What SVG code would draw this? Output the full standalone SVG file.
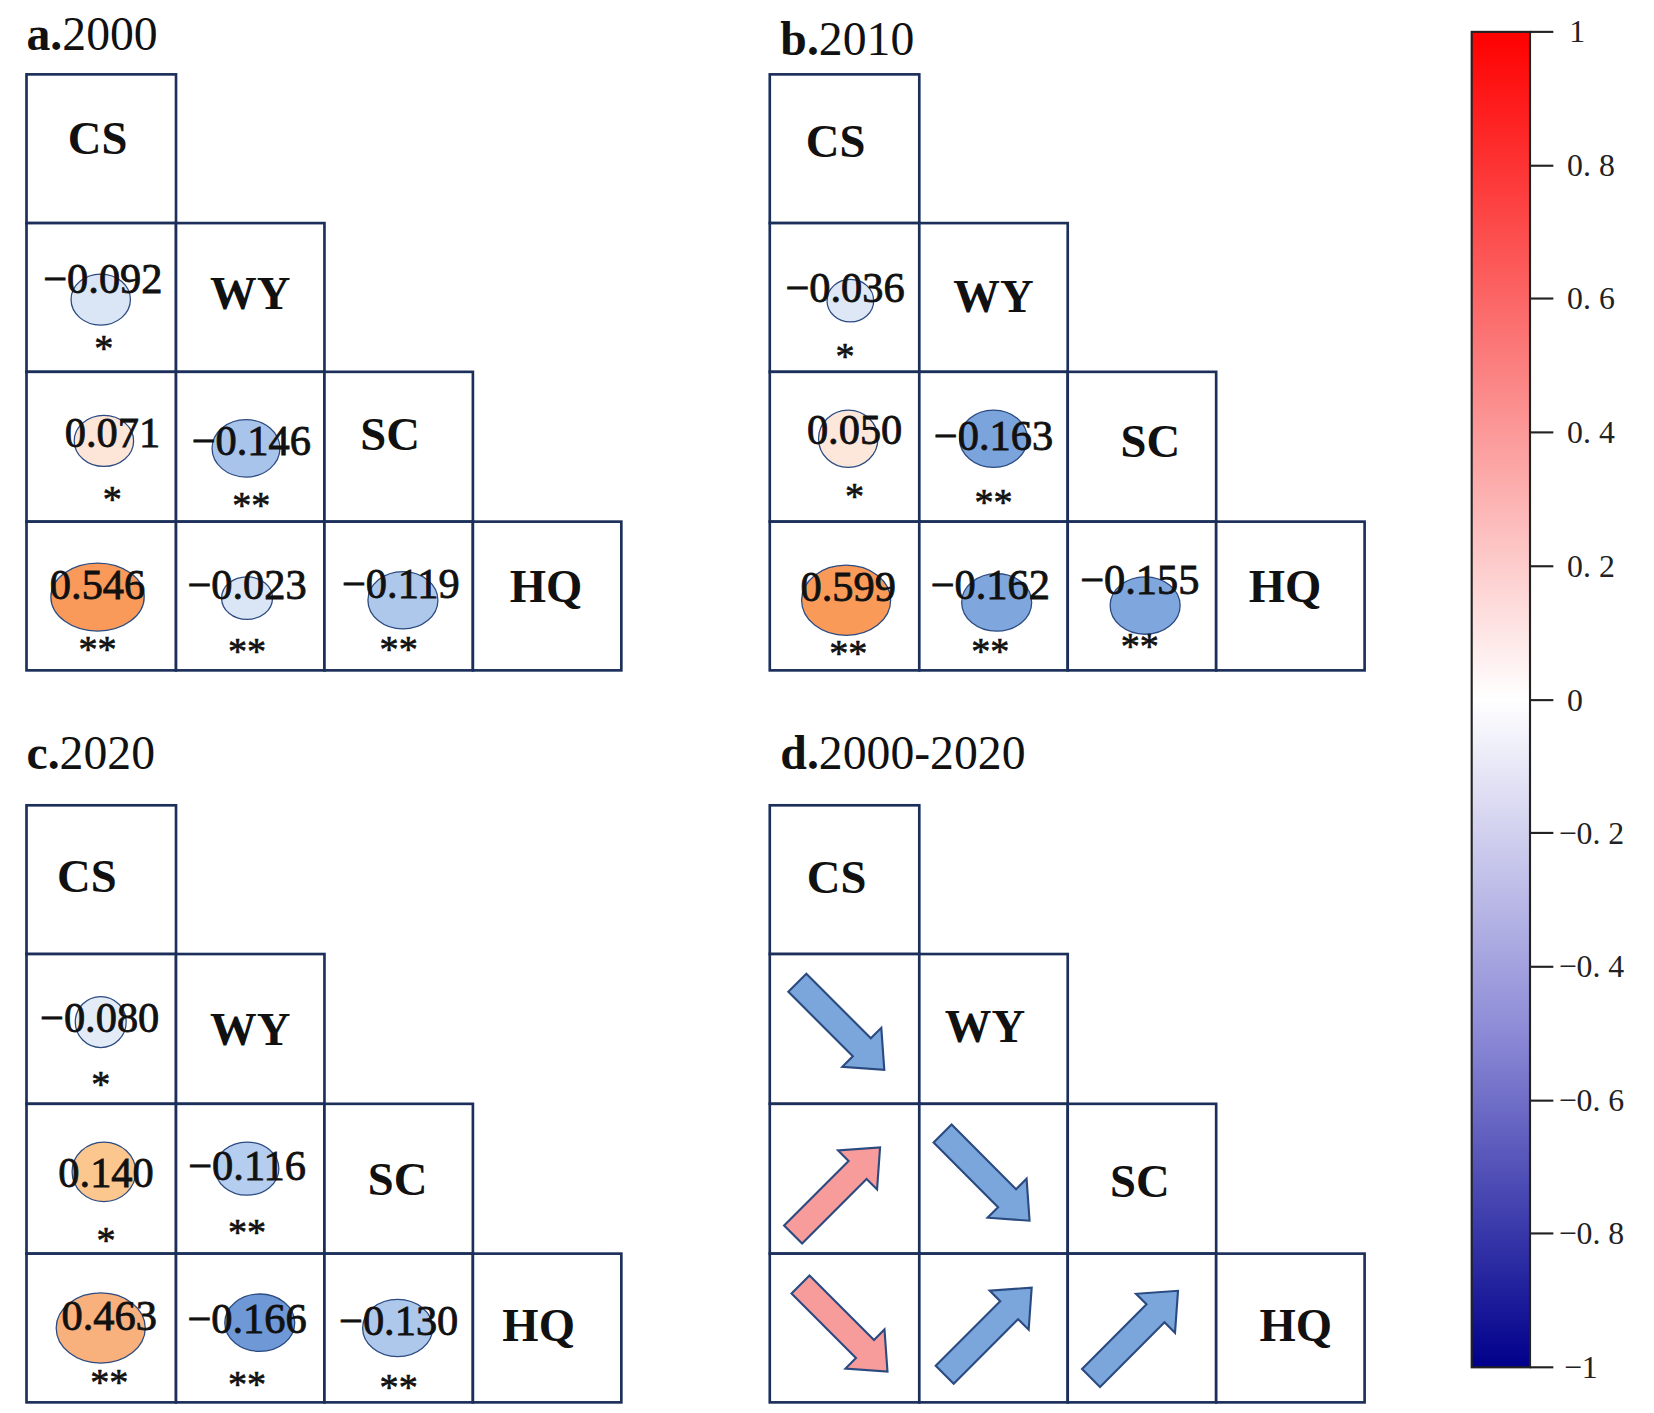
<svg xmlns="http://www.w3.org/2000/svg" width="1654" height="1413" viewBox="0 0 1654 1413">
<defs>
<style>
.c{fill:#fff;stroke:#1b2f5a;stroke-width:2.5}
.lab{font-family:"Liberation Serif",serif;font-weight:bold;font-size:44px;text-anchor:middle;fill:#111}
.v{font-family:"Liberation Serif",serif;font-size:40px;text-anchor:middle;fill:#111;stroke:#111;stroke-width:0.8}
.s{font-family:"Liberation Serif",serif;font-size:36px;text-anchor:middle;fill:#111;stroke:#111;stroke-width:0.6}
.t{font-family:"Liberation Serif",serif;font-size:45px;fill:#111}
.e{stroke:#2a4a80;stroke-width:1.2}
.tk{font-family:"Liberation Serif",serif;font-size:30px;fill:#222}
.ab{fill:#7aa6dc;stroke:#2a4a80;stroke-width:2}
.ap{fill:#f79b9b;stroke:#2a4a80;stroke-width:2}
</style>
<linearGradient id="cb" x1="0" y1="0" x2="0" y2="1">
<stop offset="0" stop-color="#ff0000"/>
<stop offset="0.25" stop-color="#fb7f7f"/>
<stop offset="0.5" stop-color="#ffffff"/>
<stop offset="0.75" stop-color="#8c8ad6"/>
<stop offset="1" stop-color="#00008b"/>
</linearGradient>
<path id="arr" d="M-58,-12 L28,-12 L28,-26 L58,0 L28,26 L28,12 L-58,12 Z"/>
</defs>
<g transform="scale(1.0603,1.0624)">
<g id="titles">
<text class="t" x="25" y="47"><tspan font-weight="bold">a.</tspan>2000</text>
<text class="t" x="736" y="52"><tspan font-weight="bold">b.</tspan>2010</text>
<text class="t" x="25" y="724"><tspan font-weight="bold">c.</tspan>2020</text>
<text class="t" x="736" y="724"><tspan font-weight="bold">d.</tspan>2000-2020</text>
</g>
<g id="panel-a">
<rect class="c" x="25" y="70" width="141" height="140"/>
<rect class="c" x="25" y="210" width="141" height="140"/><rect class="c" x="166" y="210" width="140" height="140"/>
<rect class="c" x="25" y="350" width="141" height="141"/><rect class="c" x="166" y="350" width="140" height="141"/><rect class="c" x="306" y="350" width="140" height="141"/>
<rect class="c" x="25" y="491" width="141" height="140"/><rect class="c" x="166" y="491" width="140" height="140"/><rect class="c" x="306" y="491" width="140" height="140"/><rect class="c" x="446" y="491" width="140" height="140"/>
<text class="lab" x="92" y="145">CS</text><text class="lab" x="236" y="291">WY</text><text class="lab" x="368" y="424">SC</text><text class="lab" x="515" y="567">HQ</text>
<ellipse class="e" cx="95" cy="282" rx="28" ry="24" fill="#dae6f5"/>
<ellipse class="e" cx="98" cy="415" rx="28" ry="24" fill="#fde5d8"/>
<ellipse class="e" cx="232" cy="422" rx="32" ry="27" fill="#a9c4ea"/>
<ellipse class="e" cx="92" cy="562" rx="44" ry="32" fill="#f99a5b"/>
<ellipse class="e" cx="233" cy="563" rx="24" ry="20" fill="#dae6f5"/>
<ellipse class="e" cx="380" cy="565" rx="33" ry="27" fill="#aec8ec"/>
<text class="v" x="97" y="276">−0.092</text><text class="s" x="98" y="340">*</text>
<text class="v" x="106" y="421">0.071</text><text class="s" x="106" y="482">*</text>
<text class="v" x="237" y="428">−0.146</text><text class="s" x="237" y="488">**</text>
<text class="v" x="92" y="564">0.546</text><text class="s" x="92" y="623">**</text>
<text class="v" x="233" y="564">−0.023</text><text class="s" x="233" y="625">**</text>
<text class="v" x="378" y="563">−0.119</text><text class="s" x="376" y="623">**</text>
</g>
<g id="panel-b">
<rect class="c" x="726" y="70" width="141" height="140"/>
<rect class="c" x="726" y="210" width="141" height="140"/><rect class="c" x="867" y="210" width="140" height="140"/>
<rect class="c" x="726" y="350" width="141" height="141"/><rect class="c" x="867" y="350" width="140" height="141"/><rect class="c" x="1007" y="350" width="140" height="141"/>
<rect class="c" x="726" y="491" width="141" height="140"/><rect class="c" x="867" y="491" width="140" height="140"/><rect class="c" x="1007" y="491" width="140" height="140"/><rect class="c" x="1147" y="491" width="140" height="140"/>
<text class="lab" x="788" y="148">CS</text><text class="lab" x="937" y="294">WY</text><text class="lab" x="1085" y="430">SC</text><text class="lab" x="1212" y="567">HQ</text>
<ellipse class="e" cx="802" cy="283" rx="22" ry="20" fill="#dde7f5"/>
<ellipse class="e" cx="800" cy="413" rx="28" ry="27" fill="#fde6da"/>
<ellipse class="e" cx="937" cy="413" rx="32" ry="27" fill="#7ba3dc"/>
<ellipse class="e" cx="798" cy="565" rx="42" ry="33" fill="#fa9a58"/>
<ellipse class="e" cx="940" cy="567" rx="33" ry="27" fill="#80a6de"/>
<ellipse class="e" cx="1080" cy="570" rx="33" ry="27" fill="#80a6de"/>
<text class="v" x="797" y="284">−0.036</text><text class="s" x="797" y="347">*</text>
<text class="v" x="806" y="418">0.050</text><text class="s" x="806" y="479">*</text>
<text class="v" x="937" y="424">−0.163</text><text class="s" x="937" y="485">**</text>
<text class="v" x="800" y="566">0.599</text><text class="s" x="800" y="627">**</text>
<text class="v" x="934" y="564">−0.162</text><text class="s" x="934" y="625">**</text>
<text class="v" x="1075" y="559">−0.155</text><text class="s" x="1075" y="620">**</text>
</g>
<g id="panel-c">
<rect class="c" x="25" y="758" width="141" height="140"/>
<rect class="c" x="25" y="898" width="141" height="141"/><rect class="c" x="166" y="898" width="140" height="141"/>
<rect class="c" x="25" y="1039" width="141" height="141"/><rect class="c" x="166" y="1039" width="140" height="141"/><rect class="c" x="306" y="1039" width="140" height="141"/>
<rect class="c" x="25" y="1180" width="141" height="140"/><rect class="c" x="166" y="1180" width="140" height="140"/><rect class="c" x="306" y="1180" width="140" height="140"/><rect class="c" x="446" y="1180" width="140" height="140"/>
<text class="lab" x="82" y="840">CS</text><text class="lab" x="236" y="984">WY</text><text class="lab" x="375" y="1125">SC</text><text class="lab" x="508" y="1262">HQ</text>
<ellipse class="e" cx="95" cy="962" rx="24" ry="24" fill="#e3ebf7"/>
<ellipse class="e" cx="98" cy="1103" rx="30" ry="28" fill="#fcc68f"/>
<ellipse class="e" cx="233" cy="1100" rx="30" ry="25" fill="#b5cdee"/>
<ellipse class="e" cx="95" cy="1250" rx="42" ry="33" fill="#f8b07c"/>
<ellipse class="e" cx="245" cy="1245" rx="33" ry="27" fill="#6e98d6"/>
<ellipse class="e" cx="375" cy="1250" rx="33" ry="27" fill="#aec8ec"/>
<text class="v" x="94" y="971">−0.080</text><text class="s" x="95" y="1033">*</text>
<text class="v" x="100" y="1117">0.140</text><text class="s" x="100" y="1179">*</text>
<text class="v" x="233" y="1111">−0.116</text><text class="s" x="233" y="1172">**</text>
<text class="v" x="103" y="1252">0.463</text><text class="s" x="103" y="1313">**</text>
<text class="v" x="233" y="1255">−0.166</text><text class="s" x="233" y="1315">**</text>
<text class="v" x="376" y="1257">−0.130</text><text class="s" x="376" y="1318">**</text>
</g>
<g id="panel-d">
<rect class="c" x="726" y="758" width="141" height="140"/>
<rect class="c" x="726" y="898" width="141" height="141"/><rect class="c" x="867" y="898" width="140" height="141"/>
<rect class="c" x="726" y="1039" width="141" height="141"/><rect class="c" x="867" y="1039" width="140" height="141"/><rect class="c" x="1007" y="1039" width="140" height="141"/>
<rect class="c" x="726" y="1180" width="141" height="140"/><rect class="c" x="867" y="1180" width="140" height="140"/><rect class="c" x="1007" y="1180" width="140" height="140"/><rect class="c" x="1147" y="1180" width="140" height="140"/>
<text class="lab" x="789" y="841">CS</text><text class="lab" x="929" y="981">WY</text><text class="lab" x="1075" y="1127">SC</text><text class="lab" x="1222" y="1262">HQ</text>
<use href="#arr" class="ab" transform="translate(793,966) rotate(45)"/>
<use href="#arr" class="ap" transform="translate(789,1121) rotate(-45)"/>
<use href="#arr" class="ab" transform="translate(930,1108) rotate(45)"/>
<use href="#arr" class="ap" transform="translate(796,1250) rotate(45)"/>
<use href="#arr" class="ab" transform="translate(932,1253) rotate(-45)"/>
<use href="#arr" class="ab" transform="translate(1070,1256) rotate(-45)"/>
</g>
<g id="colorbar">
<rect x="1388" y="30" width="55" height="1257" fill="url(#cb)" stroke="#222" stroke-width="2"/>
<g stroke="#222" stroke-width="2">
<line x1="1443" y1="30" x2="1465" y2="30"/><line x1="1443" y1="156" x2="1465" y2="156"/><line x1="1443" y1="281" x2="1465" y2="281"/><line x1="1443" y1="407" x2="1465" y2="407"/><line x1="1443" y1="533" x2="1465" y2="533"/><line x1="1443" y1="659" x2="1465" y2="659"/><line x1="1443" y1="784" x2="1465" y2="784"/><line x1="1443" y1="910" x2="1465" y2="910"/><line x1="1443" y1="1036" x2="1465" y2="1036"/><line x1="1443" y1="1161" x2="1465" y2="1161"/><line x1="1443" y1="1287" x2="1465" y2="1287"/>
</g>
<text class="tk" x="1480" y="40">1</text>
<text class="tk" x="1478" y="166">0. 8</text>
<text class="tk" x="1478" y="291">0. 6</text>
<text class="tk" x="1478" y="417">0. 4</text>
<text class="tk" x="1478" y="543">0. 2</text>
<text class="tk" x="1478" y="669">0</text>
<text class="tk" x="1470" y="794">−0. 2</text>
<text class="tk" x="1470" y="920">−0. 4</text>
<text class="tk" x="1470" y="1046">−0. 6</text>
<text class="tk" x="1470" y="1171">−0. 8</text>
<text class="tk" x="1475" y="1297">−1</text>
</g>
</g>
</svg>
